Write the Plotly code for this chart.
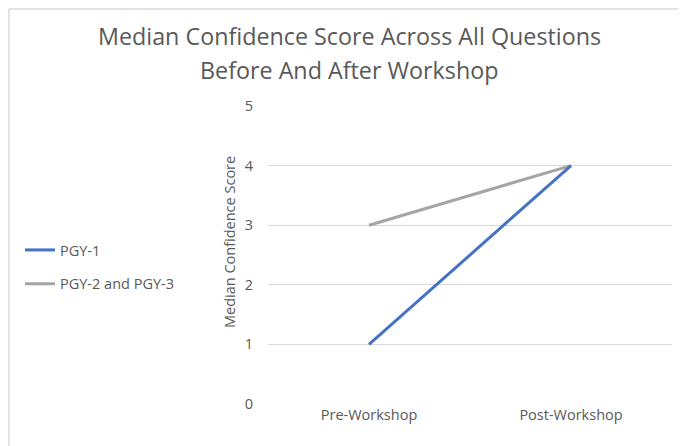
import plotly.graph_objects as go

categories = ["Pre-Workshop", "Post-Workshop"]
pgy1 = [1, 4]
pgy23 = [3, 4]
y_ticks = [0, 1, 2, 3, 4, 5]

# the page body has an 8px margin, so figure coords = screen coords - 8
OFF = 8
W, H = 686 - OFF, 446 - OFF
L, T = 268 - OFF, 106 - OFF
R, B = 14, 42
pw, ph = W - L - R, H - T - B

def px(x):  # screen x -> paper
    return (x - OFF - L) / pw

def py(y):  # screen y -> paper
    return (H - B - (y - OFF)) / ph

font_fam = "Open Sans, Noto Sans, sans-serif"
txt = "#595959"

fig = go.Figure()
fig.add_trace(go.Scatter(x=categories, y=pgy23, mode="lines", name="PGY-2 and PGY-3",
                         line=dict(color="#A5A5A5", width=3), legendgroup="b", legendrank=2))
fig.add_trace(go.Scatter(x=categories, y=pgy1, mode="lines", name="PGY-1",
                         line=dict(color="#4472C4", width=3), legendgroup="a", legendrank=1))

fig.update_layout(
    width=W, height=H,
    margin=dict(l=L, r=R, t=T, b=B, pad=0),
    paper_bgcolor="white", plot_bgcolor="white",
    font=dict(family=font_fam, color=txt, size=14),
    showlegend=True,
    legend=dict(x=px(20), xanchor="left", y=py(234), yanchor="top",
                font=dict(size=14.5, color=txt), tracegroupgap=12,
                traceorder="grouped", bgcolor="rgba(0,0,0,0)"),
    xaxis=dict(type="category", range=[-0.5, 1.5], showgrid=False, showline=False,
               zeroline=False, ticks="", tickfont=dict(size=14.5, color=txt)),
    yaxis=dict(range=[0, 5], tickvals=y_ticks, showgrid=True, gridcolor="#D9D9D9",
               gridwidth=1, zeroline=False, showline=False, ticks="",
               ticklabelstandoff=14, tickfont=dict(size=14.5, color=txt)),
    annotations=[
        dict(text="Median Confidence Score Across All Questions", x=px(349), y=py(36),
             xref="paper", yref="paper", showarrow=False, xanchor="center", yanchor="middle",
             font=dict(size=23.3, color=txt)),
        dict(text="Before And After Workshop", x=px(349), y=py(70),
             xref="paper", yref="paper", showarrow=False, xanchor="center", yanchor="middle",
             font=dict(size=23.3, color=txt)),
        dict(text="Median Confidence Score", x=px(229), y=py(242),
             xref="paper", yref="paper", textangle=-90, showarrow=False,
             xanchor="center", yanchor="middle", font=dict(size=14.5, color=txt)),
    ],
    shapes=[
        dict(type="line", xref="paper", yref="paper", x0=px(9), x1=px(700), y0=py(9), y1=py(9),
             line=dict(color="#D9D9D9", width=1.5)),
        dict(type="line", xref="paper", yref="paper", x0=px(9), x1=px(9), y0=py(9), y1=py(460),
             line=dict(color="#D9D9D9", width=1.5)),
    ],
)

fig.write_html("out.html")
